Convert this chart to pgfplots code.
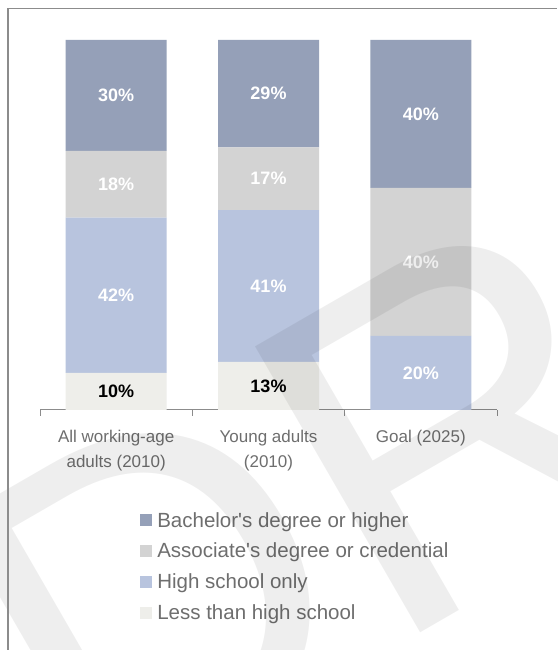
\documentclass[border=0pt]{standalone}
\usepackage{pgfplots}
\pgfplotsset{compat=1.18}
\usepackage{fontspec}
\setmainfont{Liberation Sans}
\definecolor{bach}{HTML}{95A0B8}
\definecolor{assoc}{HTML}{D3D3D3}
\definecolor{hs}{HTML}{B8C4DE}
\definecolor{less}{HTML}{EEEEEA}
\definecolor{txt}{HTML}{6E6E6E}
\definecolor{framec}{HTML}{8C8C8C}
\begin{document}
\begin{tikzpicture}[x=1pt,y=1pt]
\useasboundingbox (0pt,0pt) rectangle (557pt,650pt);
\fill[white] (0pt,0pt) rectangle (557pt,650pt);
\begin{axis}[
  at={(40pt,240pt)}, anchor=south west,
  scale only axis, width=457pt, height=370pt,
  ybar stacked, bar width=101pt,
  xmin=-0.5, xmax=2.5, ymin=0, ymax=100,
  axis x line*=bottom, axis y line=none,
  x axis line style={draw=framec, line width=1pt, -},
  xtick={0,1,2},
  xticklabels={{All working-age\\adults (2010)},{Young adults\\(2010)},{Goal (2025)}},
  xticklabel style={align=center, font=\fontsize{17}{25}\selectfont, text=txt, yshift=-17pt},
  major tick length=0pt,
  minor xtick={-0.5,0.5,1.5,2.5},
  minor tick length=6pt,
  tick align=outside,
  minor x tick style={draw=framec, line width=1pt},
  nodes near coords,
  point meta=explicit symbolic,
  every node near coord/.append style={anchor=center, font=\fontsize{18}{18}\selectfont\bfseries},
  reverse legend,
  legend cell align=left,
  legend style={at={(0.219,-0.273)}, anchor=north west, draw=none, fill=none, inner sep=0pt,
    font=\fontsize{20.5}{24}\selectfont, text=txt, row sep=12.5pt,
    nodes={inner sep=1pt},
    /tikz/every odd column/.append style={column sep=4pt}},
  legend image code/.code={\fill[#1] (0pt,-6pt) rectangle (12pt,6pt);},
]
\addplot+[fill=less, draw=none, every node near coord/.append style={text=black}]
  coordinates {(0,10) [10\%] (1,13) [13\%] (2,0) [\mbox{}]};
\addlegendentry{Less than high school}
\addplot+[fill=hs, draw=none, every node near coord/.append style={text=white}]
  coordinates {(0,42) [42\%] (1,41) [41\%] (2,20) [20\%]};
\addlegendentry{High school only}
\addplot+[fill=assoc, draw=none, every node near coord/.append style={text=white}]
  coordinates {(0,18) [18\%] (1,17) [17\%] (2,40) [40\%]};
\addlegendentry{Associate\textquotesingle s degree or credential}
\addplot+[fill=bach, draw=none, every node near coord/.append style={text=white}]
  coordinates {(0,30) [30\%] (1,29) [29\%] (2,40) [40\%]};
\addlegendentry{Bachelor\textquotesingle s degree or higher}
\end{axis}
\node[rotate=30, anchor=base west, inner sep=0pt, font=\fontsize{480}{480}\selectfont, text=black, text opacity=0.065] at (86pt,-176pt) {DRAFT};
\draw[framec, line width=1.5pt] (8pt,0pt) -- (8pt,641.5pt) -- (557pt,641.5pt);
\end{tikzpicture}
\end{document}
